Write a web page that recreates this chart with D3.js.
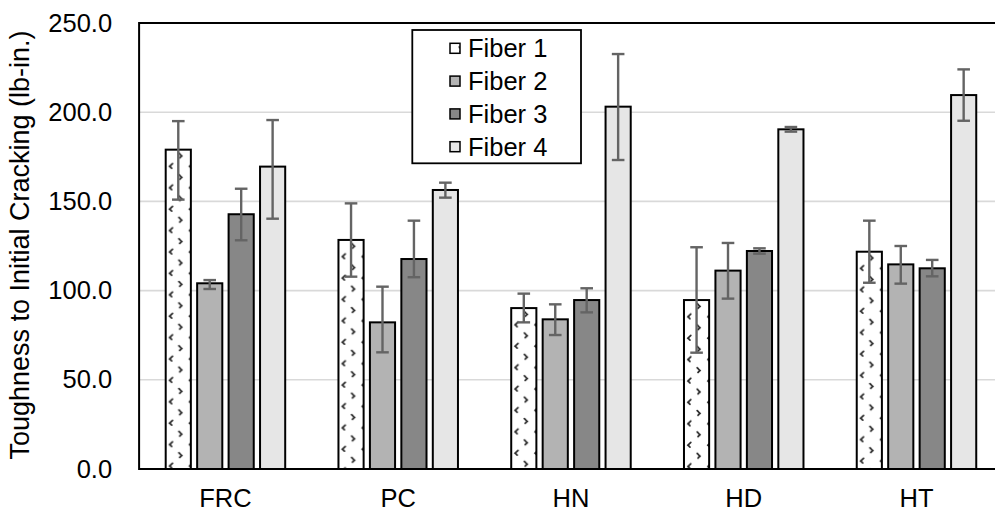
<!DOCTYPE html>
<html>
<head>
<meta charset="utf-8">
<script src="https://cdn.jsdelivr.net/npm/d3@7"></script>
<style>
  html, body { margin: 0; padding: 0; background: #fff; }
  svg { display: block; }
</style>
</head>
<body>
<svg id="chart" width="995" height="514"></svg>
<script>
// Toughness to initial cracking by mix type and fiber type
const categories = ["FRC", "PC", "HN", "HD", "HT"];
const seriesNames = ["Fiber 1", "Fiber 2", "Fiber 3", "Fiber 4"];

const fiber1 = [179.0, 128.4, 90.2, 94.7, 121.8];
const fiber2 = [104.1, 82.2, 83.9, 111.2, 114.7];
const fiber3 = [142.8, 117.7, 94.7, 122.2, 112.5];
const fiber4 = [169.5, 156.4, 203.1, 190.4, 209.6];

// error bar extents above (plus) and below (minus) each mean
const fiber1Plus  = [16.0, 20.5, 8.1, 29.6, 17.4];
const fiber1Minus = [28.0, 20.6, 8.0, 29.5, 17.4];
const fiber2Plus  = [1.8, 20.0, 8.4, 15.5, 10.3];
const fiber2Minus = [3.2, 16.8, 8.8, 15.7, 10.8];
const fiber3Plus  = [14.3, 21.5, 6.6, 1.5, 4.7];
const fiber3Minus = [14.6, 10.2, 6.9, 1.5, 4.5];
const fiber4Plus  = [26.1, 4.1, 29.5, 1.3, 14.4];
const fiber4Minus = [29.2, 4.3, 29.9, 1.3, 14.4];

const yTicks = [0, 50, 100, 150, 200, 250];
const yTitle = "Toughness to Initial Cracking (lb-in.)";

const seriesValues = [fiber1, fiber2, fiber3, fiber4];
const seriesPlus = [fiber1Plus, fiber2Plus, fiber3Plus, fiber4Plus];
const seriesMinus = [fiber1Minus, fiber2Minus, fiber3Minus, fiber4Minus];
const seriesFill = ["pattern", "#b3b3b3", "#878787", "#e6e6e6"];

const rows = [];
categories.forEach((c, ci) => {
  seriesNames.forEach((s, si) => {
    rows.push({
      cat: c, ci, series: s, si,
      value: seriesValues[si][ci],
      plus: seriesPlus[si][ci],
      minus: seriesMinus[si][ci]
    });
  });
});

const FONT = "'Liberation Sans', Arial, Helvetica, sans-serif";
const svg = d3.select("#chart");

const plot = { left: 139.1, right: 1002.9, top: 23, bottom: 469 };

const y = d3.scaleLinear().domain([0, 250]).range([plot.bottom, plot.top]);
const x0 = d3.scaleBand().domain(categories).range([plot.left, plot.right]);
const x1 = d3.scaleBand().domain(seriesNames).range([26.6, 146.1]).paddingInner(0.2);

const defs = svg.append("defs");

// dotted chevron texture used by the Fiber 1 bars, anchored on each bar
function addChevronPattern(id, ox, oy) {
  const p = defs.append("pattern")
    .attr("id", id)
    .attr("patternUnits", "userSpaceOnUse")
    .attr("x", ox).attr("y", oy)
    .attr("width", 20).attr("height", 21.4);
  p.append("rect").attr("width", 20).attr("height", 21.4).attr("fill", "#fff");
  const mark = { fill: "none", stroke: "#262626", "stroke-width": 1.8, "stroke-linecap": "round", "stroke-dasharray": "1.4 1.2" };
  // "<" mark
  const a = p.append("path").attr("d", "M6.8,14 L4,16.7 L6.8,19.4");
  // ">" mark
  const b = p.append("path").attr("d", "M13.2,3.6 L16,6.3 L13.2,9");
  // partial marks wrapping around the tile edges
  const c = p.append("path").attr("d", "M26.8,14 L24,16.7 L26.8,19.4");
  [a, b, c].forEach(s => Object.entries(mark).forEach(([k, v]) => s.attr(k, v)));
}

rows.filter(d => d.si === 0).forEach(d => {
  addChevronPattern("chev-" + d.ci, x0(d.cat) + x1(d.series), y(d.value));
});
addChevronPattern("chev-legend", 446, 38);

// horizontal gridlines
svg.append("g")
  .selectAll("line")
  .data(yTicks.filter(t => t > 0 && t < 250))
  .join("line")
  .attr("x1", plot.left).attr("x2", plot.right)
  .attr("y1", d => y(d)).attr("y2", d => y(d))
  .attr("stroke", "#d9d9d9").attr("stroke-width", 1.6);

// bars
svg.append("g")
  .selectAll("rect")
  .data(rows)
  .join("rect")
  .attr("x", d => x0(d.cat) + x1(d.series))
  .attr("y", d => y(d.value))
  .attr("width", x1.bandwidth())
  .attr("height", d => y(0) - y(d.value))
  .attr("fill", d => d.si === 0 ? `url(#chev-${d.ci})` : seriesFill[d.si])
  .attr("stroke", "#000").attr("stroke-width", 2);

// error bars
const eb = svg.append("g")
  .attr("stroke", "#646464").attr("stroke-width", 2.4)
  .selectAll("g")
  .data(rows)
  .join("g")
  .attr("transform", d => `translate(${x0(d.cat) + x1(d.series) + x1.bandwidth() / 2},0)`);
eb.append("line")
  .attr("y1", d => y(d.value + d.plus)).attr("y2", d => y(d.value - d.minus));
eb.append("line")
  .attr("x1", -6.3).attr("x2", 6.3)
  .attr("y1", d => y(d.value + d.plus)).attr("y2", d => y(d.value + d.plus));
eb.append("line")
  .attr("x1", -6.3).attr("x2", 6.3)
  .attr("y1", d => y(d.value - d.minus)).attr("y2", d => y(d.value - d.minus));

// plot area frame
svg.append("rect")
  .attr("x", plot.left).attr("y", plot.top)
  .attr("width", plot.right - plot.left).attr("height", plot.bottom - plot.top)
  .attr("fill", "none").attr("stroke", "#000").attr("stroke-width", 2);

// y axis labels
const yAxis = svg.append("g")
  .attr("transform", `translate(${plot.left},0)`)
  .call(d3.axisLeft(y).tickValues(yTicks).tickFormat(d3.format(".1f")).tickSize(0).tickPadding(27));
yAxis.select(".domain").remove();
yAxis.selectAll("text")
  .attr("font-family", FONT).attr("font-size", 25.5).attr("fill", "#000");

// x axis labels
const xAxis = svg.append("g")
  .attr("transform", `translate(0,${plot.bottom})`)
  .call(d3.axisBottom(x0).tickSize(0).tickPadding(20));
xAxis.select(".domain").remove();
xAxis.selectAll("text")
  .attr("font-family", FONT).attr("font-size", 25.5).attr("fill", "#000");

// y axis title
svg.append("text")
  .attr("transform", "translate(28.5,245) rotate(-90)")
  .attr("text-anchor", "middle")
  .attr("font-family", FONT).attr("font-size", 27).attr("fill", "#000")
  .text(yTitle);

// legend
const legend = svg.append("g");
legend.append("rect")
  .attr("x", 412.3).attr("y", 30)
  .attr("width", 168.7).attr("height", 133.3)
  .attr("fill", "#fff").attr("stroke", "#000").attr("stroke-width", 1.8);
const legendY = d3.scalePoint().domain(seriesNames).range([48.3, 146.7]);
const li = legend.selectAll("g.item")
  .data(seriesNames)
  .join("g")
  .attr("class", "item")
  .attr("transform", d => `translate(0,${legendY(d)})`);
li.append("rect")
  .attr("x", 450).attr("y", -5).attr("width", 10).attr("height", 10)
  .attr("fill", (d, i) => i === 0 ? "url(#chev-legend)" : seriesFill[i])
  .attr("stroke", "#000").attr("stroke-width", 1.5);
li.append("text")
  .attr("x", 468).attr("dy", "0.35em")
  .attr("font-family", FONT).attr("font-size", 25.5).attr("fill", "#000")
  .text(d => d);
</script>
</body>
</html>
